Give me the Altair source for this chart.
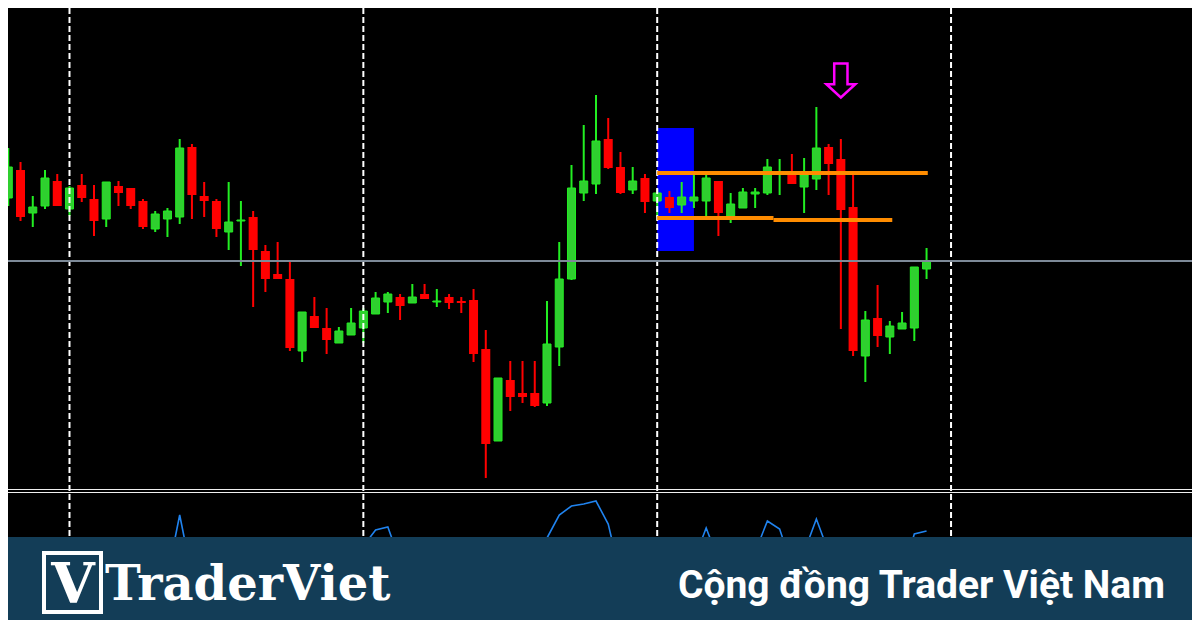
import altair as alt
import pandas as pd

# ---------------- data ----------------
BAR_INDEX = list(range(-5, 71))

OPEN = [302, 330, 287, 294, 319, 291, 315, 301, 281, 314,
        312, 299, 271, 281, 283, 353, 304, 299, 268, 279,
        283, 249, 226, 221, 149, 184, 172, 157, 165, 172,
        186, 198, 203, 197, 206, 198, 203, 199, 200, 151,
        59, 120, 107, 107, 97, 153, 221, 307, 316, 361,
        333, 310, 322, 299, 303, 295, 299, 299, 319, 284,
        292, 306, 307, 326, 325, 313, 321, 353, 341, 293,
        144, 182, 163, 171, 172, 231]
HIGH = [352, 338, 304, 330, 326, 314, 326, 315, 318, 319,
        312, 301, 289, 292, 361, 356, 318, 301, 318, 299,
        289, 255, 258, 240, 188, 203, 192, 173, 192, 192,
        208, 208, 206, 216, 216, 211, 206, 203, 211, 170,
        122, 139, 139, 139, 199, 258, 335, 375, 405, 382,
        348, 333, 326, 311, 309, 318, 326, 325, 319, 307,
        312, 312, 341, 341, 346, 342, 393, 356, 361, 325,
        189, 215, 179, 188, 233, 252]
LOW = [294, 279, 273, 291, 294, 284, 298, 264, 273, 294,
       291, 271, 268, 263, 276, 281, 283, 263, 250, 234,
       193, 208, 221, 149, 138, 172, 146, 157, 165, 157,
       186, 187, 180, 197, 201, 193, 191, 187, 138, 22,
       59, 89, 97, 93, 94, 134, 220, 299, 306, 331,
       306, 306, 287, 283, 287, 287, 292, 283, 264, 277,
       292, 292, 305, 305, 316, 287, 310, 305, 171, 144,
       118, 153, 146, 171, 159, 221]
CLOSE = [333, 283, 293, 322, 294, 312, 302, 279, 318, 307,
         294, 273, 286, 289, 352, 305, 299, 271, 278, 280,
         250, 221, 221, 152, 188, 172, 160, 169, 177, 189,
         202, 206, 194, 203, 201, 199, 197, 197, 146, 56,
         122, 103, 103, 94, 156, 221, 312, 319, 359, 332,
         307, 319, 298, 307, 292, 303, 303, 322, 287, 296,
         308, 308, 333, 327, 316, 325, 352, 336, 290, 149,
         180, 164, 174, 177, 233, 239]
INDICATOR = [15, 15, 15, 15, 15, 15, 15, 15, 15, 15,
             15, 15, 15, 24, 85, 24, 15, 15, 15, 15,
             15, 15, 15, 15, 15, 15, 15, 15, 15, 54,
             70, 73, 39, 15, 15, 15, 15, 15, 15, 15,
             15, 15, 15, 39, 62, 85, 94, 96, 99, 76,
             24, 15, 15, 15, 15, 15, 40, 72, 40, 15,
             15, 48, 79, 71, 34, 48, 81, 48, 15, 15,
             15, 15, 15, 25, 66, 69]

SESSION_BREAKS = [0, 24, 48, 72]
REF_PRICE = [239]
LEVEL_START = [48, 48, 57.5]
LEVEL_END = [70.1, 57.5, 67.2]
LEVEL_PRICE = [327, 282, 280]
ZONE_START = [48]
ZONE_END = [51]
ZONE_LOW = [249]
ZONE_HIGH = [372]
SIGNAL_BAR = [63]
SIGNAL_PRICE = [419.5]

LOGO_LETTER = "V"
BRAND = "TraderViet"
TAGLINE = "Cộng đồng Trader Việt Nam"

# ---------------- styles ----------------
W, H = 1184, 612
GREEN_FILL = "#2fcf2f"
GREEN_LINE = "#22ee22"
RED = "#ff0000"
BANNER = "#133d57"
ARROW_PATH = "M-0.39,-1L0.39,-1L0.39,0.22L0.85,0.22L0,1L-0.85,0.22L-0.39,0.22Z"

df = pd.DataFrame({"bar": BAR_INDEX, "open": OPEN, "high": HIGH,
                   "low": LOW, "close": CLOSE, "ind": INDICATOR})
df["dir"] = ["up" if c >= o else "down" for o, c in zip(OPEN, CLOSE)]

xs = alt.Scale(domain=[-5.023, 91.68], nice=False, zero=False, padding=0)
ys = alt.Scale(domain=[-120, 492], nice=False, zero=False, padding=0)
X = alt.X("bar:Q", scale=xs, axis=None)

base = alt.Chart(df)

zone = alt.Chart(pd.DataFrame({"s": ZONE_START, "e": ZONE_END, "lo": ZONE_LOW, "hi": ZONE_HIGH})).mark_rect(
    color="#0000ff").encode(
    x=alt.X("s:Q", scale=xs, axis=None), x2="e:Q",
    y=alt.Y("lo:Q", scale=ys, axis=None), y2="hi:Q")

wicks = base.mark_rule(strokeWidth=2).encode(
    x=X, y=alt.Y("low:Q", scale=ys, axis=None), y2="high:Q",
    color=alt.Color("dir:N", scale=alt.Scale(domain=["up", "down"], range=[GREEN_LINE, RED]), legend=None))

bodies_up = base.transform_filter("datum.dir == 'up'").mark_bar(
    size=8, fill=GREEN_FILL, stroke=GREEN_LINE, strokeWidth=1).encode(
    x=X, y=alt.Y("open:Q", scale=ys, axis=None), y2="close:Q")

bodies_down = base.transform_filter("datum.dir == 'down'").mark_bar(
    size=9, fill=RED).encode(
    x=X, y=alt.Y("open:Q", scale=ys, axis=None), y2="close:Q")

sessions = alt.Chart(pd.DataFrame({"b": SESSION_BREAKS})).mark_rule(
    color="white", strokeWidth=2, strokeDash=[6, 3]).encode(
    x=alt.X("b:Q", scale=xs, axis=None))

ref = alt.Chart(pd.DataFrame({"p": REF_PRICE})).mark_rule(
    color="#7d8a98", strokeWidth=2).encode(y=alt.Y("p:Q", scale=ys, axis=None))

levels = alt.Chart(pd.DataFrame({"s": LEVEL_START, "e": LEVEL_END, "p": LEVEL_PRICE})).mark_rule(
    color="#ff8c00", strokeWidth=4).encode(
    x=alt.X("s:Q", scale=xs, axis=None), x2="e:Q",
    y=alt.Y("p:Q", scale=ys, axis=None))

signal = alt.Chart(pd.DataFrame({"b": SIGNAL_BAR, "p": SIGNAL_PRICE})).mark_point(
    shape=ARROW_PATH, size=1156, filled=False, stroke="#ff00ff", strokeWidth=2.5, opacity=1).encode(
    x=alt.X("b:Q", scale=xs, axis=None), y=alt.Y("p:Q", scale=ys, axis=None))

price_pane = alt.layer(zone, wicks, bodies_up, bodies_down, sessions, ref, levels, signal)

indicator = base.mark_line(color="#2083ee", strokeWidth=1.6).encode(
    x=X, y=alt.Y("ind:Q", scale=alt.Scale(domain=[-20, 592], nice=False, zero=False, padding=0), axis=None))

one = alt.Chart(pd.DataFrame({"t": [""]}))
sep1 = one.mark_rule(color="#f0f0f0", strokeWidth=1.2).encode(
    x=alt.value(0), x2=alt.value(W), y=alt.value(481.5))
sep2 = one.mark_rule(color="#f0f0f0", strokeWidth=1.2).encode(
    x=alt.value(0), x2=alt.value(W), y=alt.value(484.5))

banner = one.mark_rect(color=BANNER).encode(
    x=alt.value(0), x2=alt.value(W), y=alt.value(529), y2=alt.value(H))

logo_box = one.mark_rect(fill=BANNER, stroke="white", strokeWidth=4).encode(
    x=alt.value(36), x2=alt.value(93), y=alt.value(545), y2=alt.value(604))

logo_v = alt.Chart(pd.DataFrame({"t": [LOGO_LETTER]})).mark_text(
    font="DejaVu Serif", fontWeight="bold", fontSize=56, color="white",
    align="center", baseline="alphabetic").encode(
    x=alt.value(65), y=alt.value(595), text="t:N")

brand = alt.Chart(pd.DataFrame({"t": [BRAND]})).mark_text(
    font="DejaVu Serif", fontWeight="bold", fontSize=48, color="white",
    align="left", baseline="alphabetic").encode(
    x=alt.value(97), y=alt.value(592), text="t:N")

tagline = alt.Chart(pd.DataFrame({"t": [TAGLINE]})).mark_text(
    font="Roboto", fontWeight="bold", fontSize=39, color="white",
    align="right", baseline="alphabetic").encode(
    x=alt.value(1157), y=alt.value(590), text="t:N")

chart = alt.layer(
    price_pane, indicator, sep1, sep2, banner, logo_box, logo_v, brand, tagline
).resolve_scale(y="independent").properties(
    width=W, height=H, padding=0,
    autosize=alt.AutoSizeParams(type="none")
).configure(background="#000000").configure_view(stroke=None)

chart.save("out.html", embed_options={"renderer": "svg", "actions": False})
